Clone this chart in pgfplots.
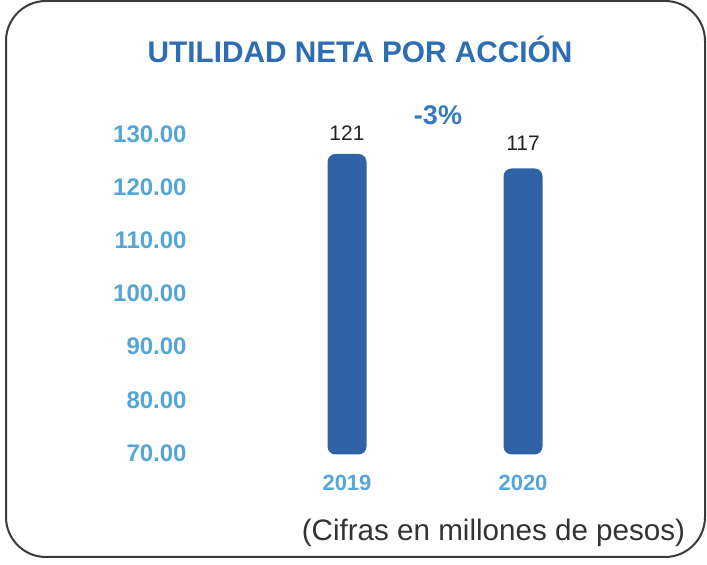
\documentclass[border=0pt]{standalone}
\usepackage{fontspec}
\setmainfont{Liberation Sans}
\usepackage{pgfplots}
\pgfplotsset{compat=1.18}
\definecolor{titleblue}{HTML}{2D6DB3}
\definecolor{barblue}{HTML}{2F63A5}
\definecolor{lightblue}{HTML}{55A6D6}
\definecolor{pctblue}{HTML}{3579BE}
\definecolor{framegray}{HTML}{3A3A3A}
\definecolor{labgray}{HTML}{222222}
\definecolor{notegray}{HTML}{333333}
\begin{document}
\begin{tikzpicture}[x=1pt,y=1pt]
\path (0,0) rectangle (353.5,282.5);
\draw[framegray, line width=1pt, rounded corners=20pt] (3,4) rectangle (352.5,282);
\begin{axis}[
  at={(93.5pt,56pt)}, anchor=south west,
  scale only axis, width=241.5pt, height=159.5pt,
  xmin=-0.909, xmax=1.835, ymin=70, ymax=130,
  clip=false,
  axis line style={draw=none},
  major tick length=0pt, tick style={draw=none},
  xtick={0,1}, xticklabels={2019,2020},
  ytick={70,80,...,130},
  /pgf/number format/fixed,
  /pgf/number format/fixed zerofill,
  /pgf/number format/precision=2,
  /pgf/number format/assume math mode=true,
  yticklabel style={font=\fontsize{12}{14}\selectfont\bfseries, text=lightblue, anchor=east, inner sep=0pt},
  xticklabel style={font=\fontsize{11}{13}\selectfont\bfseries, text=lightblue, anchor=center, yshift=-15pt},
]
% bars as drawn (not to the axis scale in the original): 2019 and 2020
\addplot[fill=barblue, draw=none, rounded corners=4pt]
  coordinates {(-0.1108,69.72) (-0.1108,126.24) (0.1108,126.24) (0.1108,69.72)} -- cycle;
\addplot[fill=barblue, draw=none, rounded corners=4pt]
  coordinates {(0.8892,69.72) (0.8892,123.52) (1.1108,123.52) (1.1108,69.72)} -- cycle;
% value labels
\addplot[draw=none, nodes near coords, point meta=explicit symbolic,
  every node near coord/.append style={anchor=center, inner sep=0pt,
    font=\fontsize{10.5}{12}\selectfont, text=labgray}]
  coordinates {(0,130.19)[121] (1,128.31)[117]};
\end{axis}
\node[font=\fontsize{14.9}{17}\selectfont\bfseries, text=titleblue] at (180,258) {UTILIDAD NETA POR ACCIÓN};
\node[font=\fontsize{13.5}{16}\selectfont\bfseries, text=pctblue] at (219,225) {-3\%};
\node[font=\fontsize{14.8}{17}\selectfont, text=notegray] at (246.75,16) {(Cifras en millones de pesos)};
\pgfresetboundingbox
\useasboundingbox (0,0) rectangle (353.5,282.5);
\end{tikzpicture}
\end{document}
